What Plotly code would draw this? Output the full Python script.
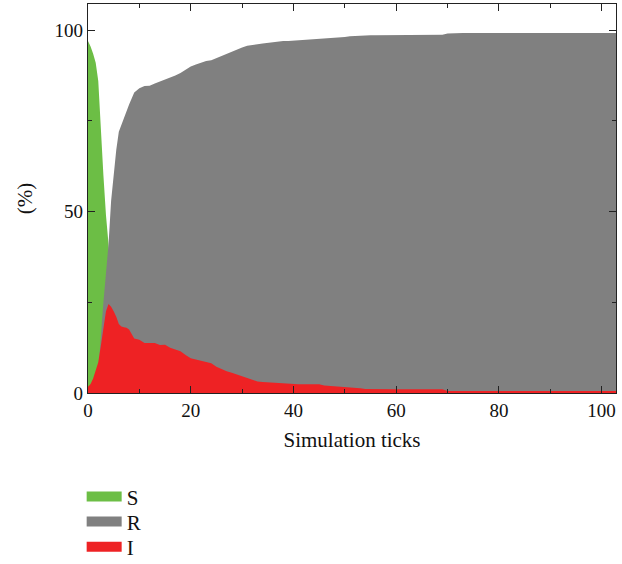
import plotly.graph_objects as go

ticks = [0, 0.5, 1, 1.5, 2, 2.5, 3, 3.5, 4, 4.5, 5, 5.5, 6, 6.5, 7, 7.5, 8] + list(range(9, 104))

S = [97, 95.5, 93.5, 91, 86, 71, 60, 49, 41, 30, 19, 13, 9, 7, 6, 4.5, 3.5,
     2.5, 1.6, 1.3, 1.1, 1.0, 0.9, 0.8, 0.8, 0.7, 0.7, 0.6, 0.6] + [0.5] * 20 + [0.4] * 30 + [0.3] * 33

R = [0, 0.3, 1, 2.5, 6, 16, 25, 33, 41, 53, 61, 67, 72, 74, 75.5, 77.5, 79.5,
     82.8, 84, 84.6, 84.7, 85.3, 85.8, 86.5, 87, 87.5, 88.2, 89.2, 90, 90.5, 91, 91.5,
     91.7, 92.3, 93, 93.6, 94.2, 94.8, 95.2, 95.7, 96, 96.1, 96.3, 96.5, 96.7, 96.9, 97,
     97, 97.1, 97.2, 97.2, 97.3, 97.3, 97.4, 97.5, 97.7, 97.9, 98, 98.1, 98.3, 98.4, 98.5,
     98.6, 98.6, 98.6, 98.6, 98.6, 98.6, 98.6, 98.6, 98.6, 98.6, 98.7, 98.7, 98.7, 98.7,
     98.7, 98.7, 99.1] + [99.2] * 33

I = [1.7, 2.5, 4, 6, 8.5, 13, 18, 22.5, 24.5, 23.8, 22.5, 21, 19, 18.3, 18.1, 18, 17.5,
     15, 14.7, 13.8, 13.8, 13.8, 13.2, 13.3, 12.5, 12, 11.5, 10.5, 9.6, 9.2, 8.9, 8.5,
     8.2, 7.2, 6.5, 6, 5.6, 5.1, 4.6, 4, 3.5, 3.2, 3, 2.9, 2.8, 2.7, 2.6, 2.5, 2.5,
     2.4, 2.4, 2.4, 2.4, 2.4, 2.1, 2.0, 1.9, 1.8, 1.7, 1.5, 1.4, 1.3, 1.1, 1.05] + [1.0] * 14 + [0.55] * 34

names = ["S", "R", "I"]
colors = ["#6CBE45", "#808080", "#EE2224"]
series = [S, R, I]
legend_ids = ["legend", "legend2", "legend3"]
legend_y = [-0.267, -0.331, -0.396]

FONT = "Liberation Serif"

fig = go.Figure()
for name, col, vals in zip(names, colors, series):
    n = min(len(vals), len(ticks))
    fig.add_trace(go.Scatter(x=ticks[:n], y=vals[:n], mode="lines", fill="tozeroy",
                             fillcolor=col, line=dict(width=0, color=col),
                             showlegend=False, hoverinfo="skip"))
for name, col, lid in zip(names, colors, legend_ids):
    fig.add_trace(go.Scatter(x=[None], y=[None], mode="lines", name=name, legend=lid,
                             line=dict(width=17, color=col), showlegend=True))

axis_common = dict(showline=True, linecolor="#222", linewidth=1.2, mirror="ticks",
                   ticks="inside", ticklen=7, tickcolor="#222", tickwidth=1.2,
                   showgrid=False, zeroline=False,
                   tickfont=dict(family=FONT, size=19, color="#111"))

fig.update_xaxes(range=[0, 102.8], tickvals=[0, 20, 40, 60, 80, 100],
                 minor=dict(tickvals=[10, 30, 50, 70, 90], ticks="inside", ticklen=4,
                            tickcolor="#222", tickwidth=1.2),
                 title=dict(text="Simulation ticks", font=dict(family=FONT, size=21, color="#111"), standoff=12),
                 **axis_common)
fig.update_yaxes(range=[0, 107.2], tickvals=[0, 50, 100],
                 minor=dict(tickvals=[25, 75], ticks="inside", ticklen=4,
                            tickcolor="#222", tickwidth=1.2),
                 title=dict(text="(%)", font=dict(family=FONT, size=21, color="#111"), standoff=16),
                 **axis_common)

leg_style = dict(x=-0.012, xanchor="left", yanchor="middle",
                 font=dict(family=FONT, size=21, color="#111"),
                 itemwidth=35, bgcolor="rgba(0,0,0,0)")
layout_legends = {lid: dict(y=ly, **leg_style) for lid, ly in zip(legend_ids, legend_y)}

fig.update_layout(
    width=622, height=564,
    margin=dict(l=88, r=6, t=4, b=171, autoexpand=False),
    paper_bgcolor="white", plot_bgcolor="white",
    font=dict(family=FONT, size=19, color="#111"),
    **layout_legends,
)

fig.write_html("out.html")
